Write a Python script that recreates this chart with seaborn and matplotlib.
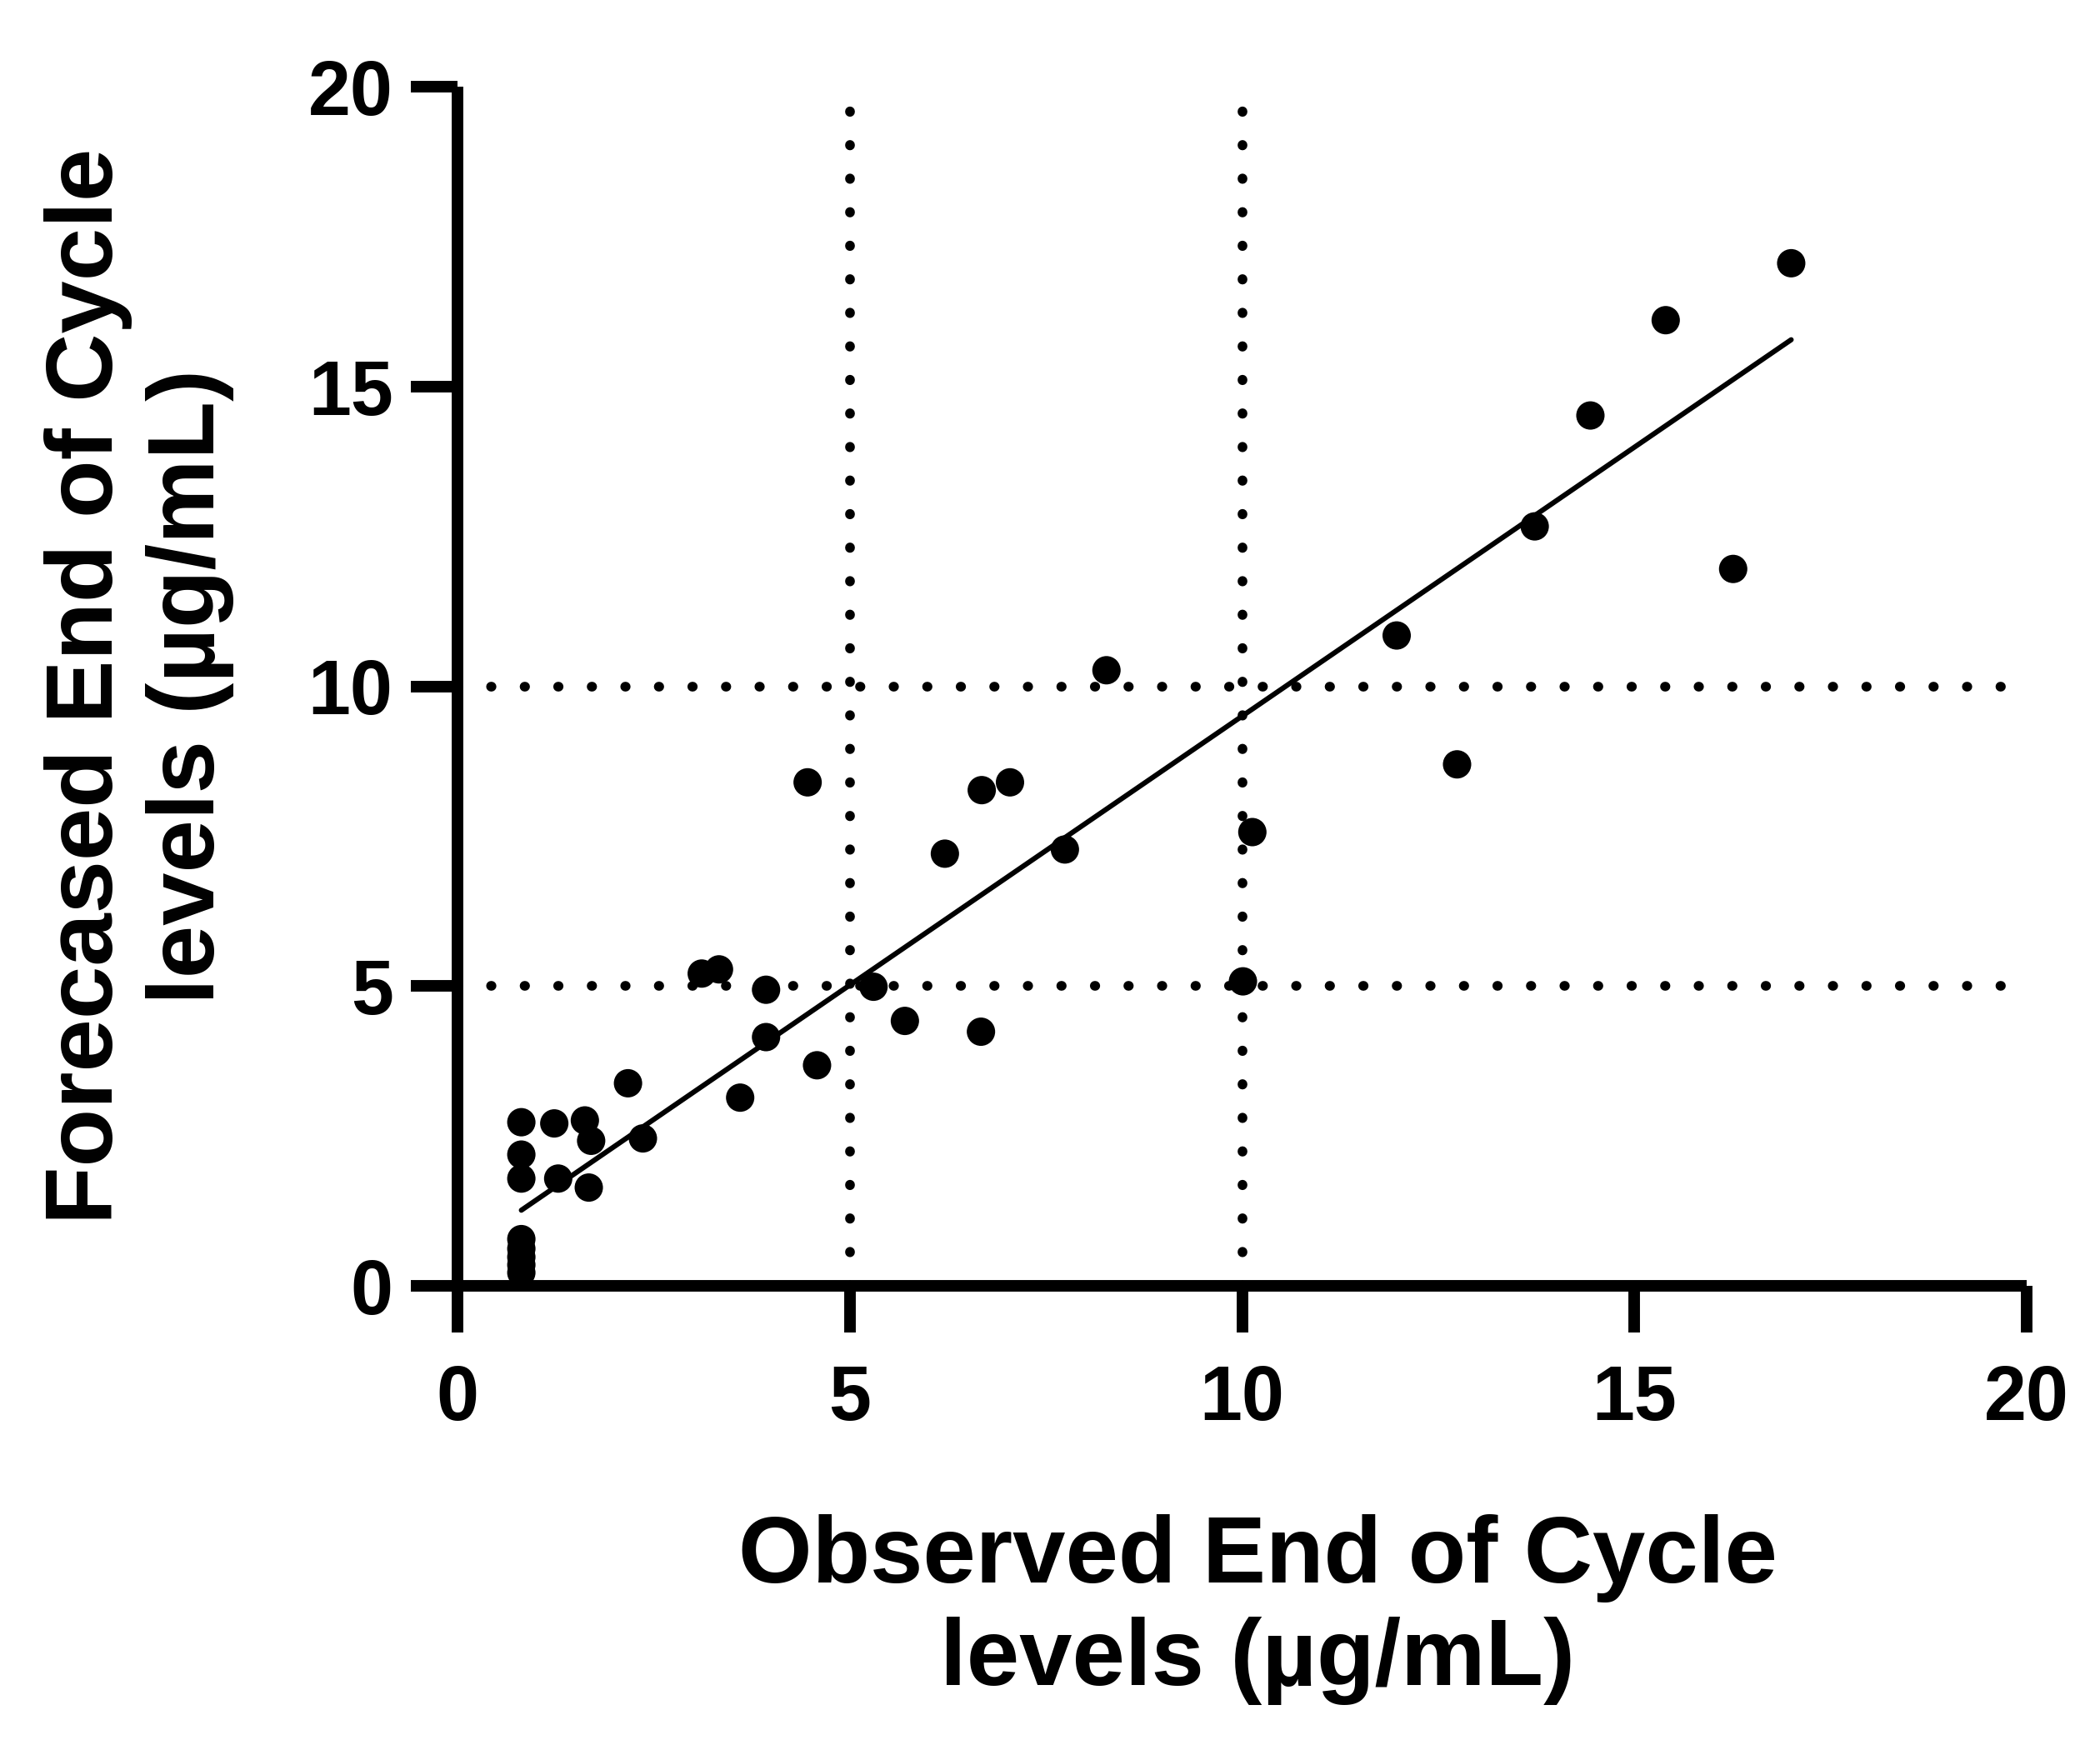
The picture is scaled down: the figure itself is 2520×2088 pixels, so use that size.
import numpy as np
import pandas as pd
import seaborn as sns
import matplotlib
matplotlib.use("Agg")
import matplotlib.pyplot as plt

# Data
observed = [17.0, 15.4, 14.44, 13.73, 16.26, 11.97, 12.74, 8.27, 4.46, 6.68,
            7.04, 6.21, 7.74, 10.13, 10.01, 3.11, 3.33, 3.93, 5.30, 5.70,
            6.67, 3.93, 4.58, 3.60, 2.17, 2.36, 0.81, 1.23, 1.62, 1.70,
            0.81, 0.81, 1.28, 1.67, 0.81, 0.81, 0.81, 0.81, 0.81]
forecast = [17.06, 16.11, 14.52, 12.67, 11.96, 10.85, 8.70, 10.27, 8.40, 8.27,
            8.40, 7.21, 7.28, 7.57, 5.08, 5.21, 5.28, 4.94, 4.99, 4.42,
            4.24, 4.15, 3.68, 3.14, 3.38, 2.46, 2.73, 2.71, 2.76, 2.42,
            2.19, 1.79, 1.79, 1.64, 0.78, 0.62, 0.48, 0.35, 0.22]
# regression line as drawn in the reference
fit_slope = 0.897
fit_intercept = 0.535
ref_levels = [5, 10]
ticks = [0, 5, 10, 15, 20]
xlabel = "Observed End of Cycle\nlevels (µg/mL)"
ylabel = "Forecased End of Cycle\nlevels (µg/mL)"

df = pd.DataFrame({"obs": observed, "fc": forecast})
fit_x = [min(observed), max(observed)]
fit_df = pd.DataFrame({"x": fit_x,
                       "y": [fit_intercept + fit_slope * v for v in fit_x]})

sns.set_style("ticks")
plt.rcParams["font.family"] = ["Liberation Sans", "DejaVu Sans"]
plt.rcParams["font.weight"] = "bold"
plt.rcParams["text.color"] = "black"
plt.rcParams["axes.labelcolor"] = "black"
plt.rcParams["xtick.color"] = "black"
plt.rcParams["ytick.color"] = "black"

fig = plt.figure(figsize=(12.6, 10.44), dpi=200)
ax = fig.add_axes([0.218, 0.261, 0.747, 0.689])

dot_style = dict(color="black", lw=4.2, linestyle=(0, (0.05, 3.4)),
                 dash_capstyle="round", zorder=1)
for v in ref_levels:
    ax.axvline(v, **dot_style)
    ax.axhline(v, **dot_style)

sns.scatterplot(data=df, x="obs", y="fc", ax=ax, s=150, color="black",
                edgecolor="none", zorder=3)
sns.lineplot(data=fit_df, x="x", y="y", ax=ax, color="black", lw=2.2, zorder=2)

ax.set_xlim(0, 20)
ax.set_ylim(0, 20)
ax.set_xticks(ticks)
ax.set_yticks(ticks)
ax.set_xticklabels([str(t) for t in ticks], fontsize=33, fontweight="bold")
ax.set_yticklabels([str(t) for t in ticks], fontsize=33, fontweight="bold")
ax.tick_params(axis="both", direction="out", length=20, width=5, colors="black")
ax.tick_params(axis="x", pad=14)
ax.tick_params(axis="y", pad=8)

for s in ["top", "right"]:
    ax.spines[s].set_visible(False)
for s in ["left", "bottom"]:
    ax.spines[s].set_linewidth(5)
    ax.spines[s].set_color("black")
    ax.spines[s].set_capstyle("butt")

ax.set_xlabel(xlabel, fontsize=41, fontweight="bold", linespacing=1.2)
ax.set_ylabel(ylabel, fontsize=41, fontweight="bold", linespacing=1.2)
ax.xaxis.set_label_coords(0.51, -0.27)
ax.xaxis.label.set_va("center")
ax.yaxis.set_label_coords(-0.203, 0.5)
ax.yaxis.label.set_va("center")

fig.savefig("out.png", dpi=200, facecolor="white")
